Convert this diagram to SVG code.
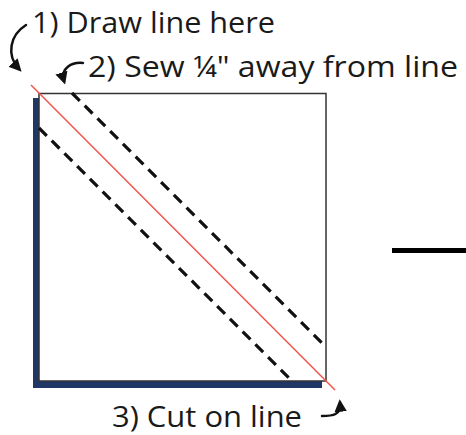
<svg xmlns="http://www.w3.org/2000/svg" width="466" height="435" viewBox="0 0 466 435">
<defs>
<style>
.lbl{font-family:"Open Sans","Noto Sans","DejaVu Sans",sans-serif;font-size:30px;fill:#1a1a1a}
.arr{fill:none;stroke:#111;stroke-width:2.5;stroke-linecap:round}
.dash{stroke:#111;stroke-width:3.2;stroke-dasharray:11 7;fill:none}
</style>
<marker id="ah" viewBox="0 0 10 10" refX="7" refY="5" markerWidth="5" markerHeight="5" orient="auto" markerUnits="strokeWidth">
<path d="M0,0 L10,5 L0,10 z" fill="#111"/>
</marker>
</defs>
<rect width="466" height="435" fill="#fff"/>
<g id="square">
<rect x="33" y="98" width="289" height="290" fill="#1e3765"/>
<rect x="39" y="93.5" width="287" height="287.5" fill="#fff" stroke="#333" stroke-width="1.5"/>
</g>
<g id="connectors">
<line class="dash" x1="72" y1="93" x2="326" y2="347"/>
<line class="dash" x1="39" y1="128" x2="292" y2="381"/>
<line x1="31" y1="85" x2="335" y2="390" stroke="#f0544c" stroke-width="1.5"/>
<path class="arr" d="M26,25 C10,35 6,55 19,69" marker-end="url(#ah)"/>
<path class="arr" d="M83,63 C72,62 60,68 64,81" marker-end="url(#ah)"/>
<path class="arr" d="M322,416 C333,416 341,415 340,403" marker-end="url(#ah)"/>
<line x1="392" y1="250.5" x2="466" y2="250.5" stroke="#000" stroke-width="5"/>
</g>
<g id="label1"><text class="lbl" x="32" y="33" textLength="243" lengthAdjust="spacingAndGlyphs">1) Draw line here</text></g>
<g id="label2"><text class="lbl" x="88" y="77" textLength="370" lengthAdjust="spacingAndGlyphs">2) Sew ¼" away from line</text></g>
<g id="label3"><text class="lbl" x="112" y="427" textLength="190" lengthAdjust="spacingAndGlyphs">3) Cut on line</text></g>
</svg>
